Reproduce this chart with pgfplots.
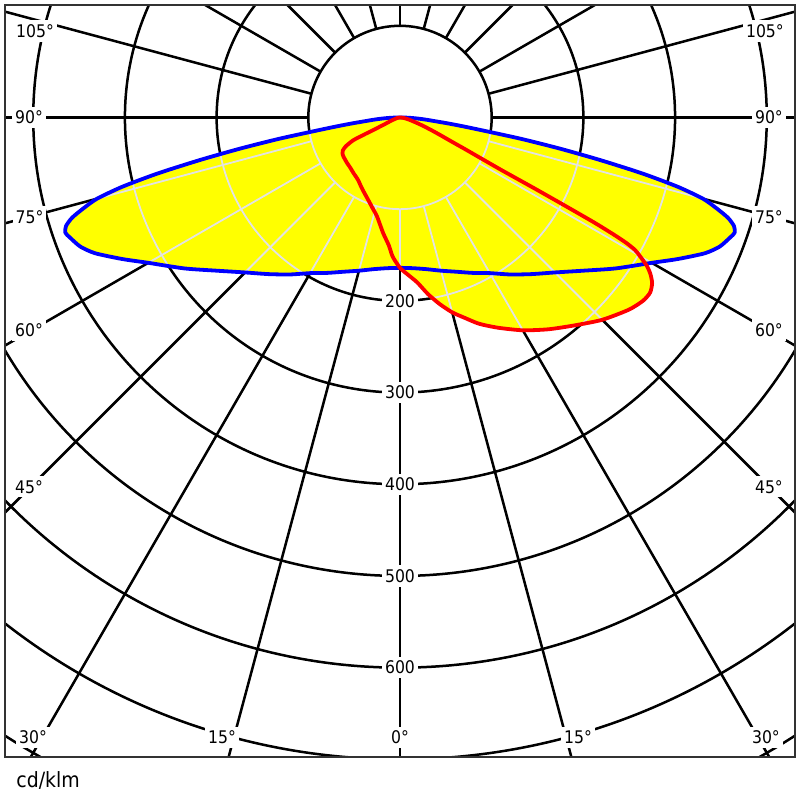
\documentclass[border=0pt]{standalone}
\usepackage{pgfplots}
\pgfplotsset{compat=1.18}
\usepackage{pgfplotstable}
\usepackage{fontspec}
\setmainfont{DejaVu Sans Condensed}
\definecolor{gridgray}{RGB}{200,200,200}
\definecolor{framegray}{RGB}{50,50,50}
\definecolor{lblue}{RGB}{0,0,255}
\definecolor{lred}{RGB}{255,0,0}
\definecolor{lyellow}{RGB}{255,255,0}
\newcommand{\polargrid}[2]{%
  \pgfplotsinvokeforeach{45.85pt,91.7pt,137.55pt,183.4pt,229.25pt,275.1pt,320.95pt,366.8pt,412.65pt}{\draw[#1, line width=#2] (axis cs:0,0) circle[radius=##1];}%
  \pgfplotsinvokeforeach{-180,-165,-150,-135,-120,-105,-90,-75,-60,-45,-30,-15,0,15,30,45,60,75,90,105,120,135,150,165}{\draw[#1, line width=#2] (axis cs:0,0) ++(##1:45.85pt) -- ++(##1:900pt);}%
}
% C0-C180 plane: t = polar angle (deg), r = cd/klm
\pgfplotstableread{
t r
-180 0
-179 6
-178 11
-177 17
-176 23
-175 30
-174 38
-173 52
-172 70
-171 94
-170 134
-169 177
-168 223
-167 271
-166 312
-165 342
-164 359
-163 374
-162 383
-161 386
-160 383
-158 376
-156 364
-153 340
-150 317
-145 287
-140 260
-135 239
-130 223
-125 209
-120 196
-115 187
-110 179
-105 173
-100 168
-95 165
-90 164
-85 165
-80 168
-75 173
-70 179
-65 187
-60 196
-55 209
-50 223
-45 239
-40 260
-35 287
-30 317
-27 340
-24 364
-22 376
-20 383
-19 386
-18 383
-17 374
-16 359
-15 342
-14 312
-13 271
-12 223
-11 177
-10 134
-9 94
-8 70
-7 52
-6 38
-5 30
-4 23
-3 17
-2 11
-1 6
0 0
}\bluedata
% C90-C270 plane
\pgfplotstableread{
t r
-180 0
-170 3
-160 10
-156 20
-155 30
-154.5 45
-154 57
-152 67
-150 72
-148 74
-145 75
-140 76
-135 77
-130 79
-124 82
-118 88
-111 96.5
-107 103
-103 111
-98.4 127
-95 140
-93 152
-90 164
-87 172
-84 181
-81 195
-78 208
-75 220
-72 230
-69 241
-65 253
-60 268
-55 282
-50 296
-45 312
-40 326
-37 332
-35 333
-33.3 329
-32 322
-31 314
-30 302
-29.4 294
-29 282
-28.7 265
-28.4 240
-28.1 200
-27.8 165
-27.4 125
-26.8 100
-26 80
-25 62
-23.6 48
-22 37
-20 27
-18 19.5
-14 11
-10 6
-5 3
0 0
}\reddata
\begin{document}
\begin{tikzpicture}[lab/.style={fill=white, inner xsep=1.5pt, inner ysep=2pt, font=\fontsize{8.7}{10}\selectfont}]
\begin{axis}[
  x=0.4585pt, y=0.4585pt,
  xmin=-430.8, xmax=430.8, ymin=-697.1, ymax=122.7,
  xtick=\empty, ytick=\empty,
  axis on top,
  axis line style={draw=framegray, line width=1pt},
  clip=true,
]
\polargrid{black}{1.25pt}
\addplot[data cs=polar, fill=lyellow, draw=none, smooth, tension=0.4] table[x=t, y=r] {\bluedata};
\addplot[data cs=polar, fill=lyellow, draw=none, smooth, tension=0.4] table[x=t, y=r] {\reddata};
\begin{scope}[blend mode=saturation]
\polargrid{gridgray}{0.9pt}
\end{scope}
\addplot[data cs=polar, draw=lblue, line width=1.9pt, smooth, tension=0.4, line join=round] table[x=t, y=r] {\bluedata};
\addplot[data cs=polar, draw=lred, line width=1.9pt, smooth, tension=0.4, line join=round] table[x=t, y=r] {\reddata};
% radius labels
\node[lab] at (axis cs:0,-200) {200};
\node[lab] at (axis cs:0,-300) {300};
\node[lab] at (axis cs:0,-400) {400};
\node[lab] at (axis cs:0,-500) {500};
\node[lab] at (axis cs:0,-600) {600};
% angle labels
\node[lab] at (axis cs:-398,94.3) {105°};
\node[lab] at (axis cs:-404.6,0) {90°};
\node[lab] at (axis cs:-404,-108.5) {75°};
\node[lab] at (axis cs:-404.6,-231.7) {60°};
\node[lab] at (axis cs:-404.6,-402.9) {45°};
\node[lab] at (axis cs:-400.2,-676.1) {30°};
\node[lab] at (axis cs:-194.1,-676.1) {15°};
\node[lab] at (axis cs:0,-676.1) {0°};
\node[lab] at (axis cs:194.1,-676.1) {15°};
\node[lab] at (axis cs:399.1,-676.1) {30°};
\node[lab] at (axis cs:402.4,-402.9) {45°};
\node[lab] at (axis cs:402.4,-231.7) {60°};
\node[lab] at (axis cs:402.4,-108.5) {75°};
\node[lab] at (axis cs:402.4,0) {90°};
\node[lab] at (axis cs:398,94.3) {105°};
\end{axis}
\node[anchor=base west, inner sep=0pt, font=\fontsize{10.5}{12}\selectfont] at ([shift={(5.5pt,-15.5pt)}]current axis.south west) {cd/klm};
\pgfresetboundingbox
\path ([shift={(-2.5pt,-21.5pt)}]current axis.south west) rectangle ([shift={(2.5pt,2.5pt)}]current axis.north east);
\end{tikzpicture}
\end{document}
